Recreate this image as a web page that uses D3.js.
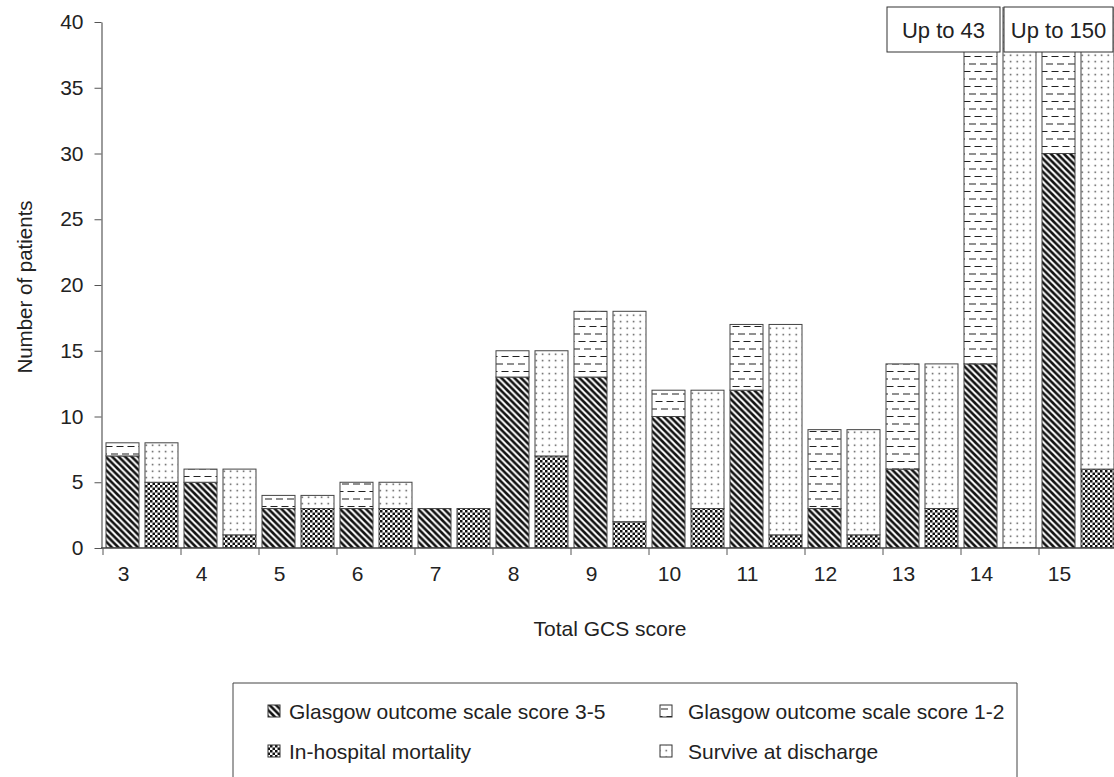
<!DOCTYPE html>
<html><head><meta charset="utf-8">
<script src="https://cdn.jsdelivr.net/npm/d3@7"></script>
<style>body{margin:0;background:#fff}svg{display:block;font-family:"Liberation Sans",Arial,sans-serif}</style>
</head><body><svg id="c" width="1114" height="777"></svg>
<script>
// ---- data ----
const categories = ['3','4','5','6','7','8','9','10','11','12','13','14','15'];
const gosGood   = [7,5,3,3,3,13,13,10,12,3,6,14,30];      // Glasgow outcome scale score 3-5
const gosPoor   = [1,1,1,2,0,2,5,2,5,6,8,29,120];         // Glasgow outcome scale score 1-2
const mortality = [5,1,3,3,3,7,2,3,1,1,3,0,6];            // In-hospital mortality
const survive   = [3,5,1,2,0,8,16,9,16,8,11,43,144];      // Survive at discharge
const yTicks = [0,5,10,15,20,25,30,35,40];
const capLabels = ['Up to 43','Up to 150'];
const capCategories = ['14','15'];
const legendLabels = ['Glasgow outcome scale score 3-5','Glasgow outcome scale score 1-2','In-hospital mortality','Survive at discharge'];

const svg = d3.select('#c');
const defs = svg.append('defs');
const FS = 21;

// patterns
const pHatch = defs.append('pattern').attr('id','hatch').attr('patternUnits','userSpaceOnUse').attr('width',6.5).attr('height',6.5);
pHatch.append('rect').attr('width',6.5).attr('height',6.5).attr('fill','#fff');
pHatch.append('path').attr('d','M-1,-1L7.5,7.5M-1,5.5L1,7.5M5.5,-1L7.5,1').attr('stroke','#111').attr('stroke-width',2.6);

const pCheck = defs.append('pattern').attr('id','check').attr('patternUnits','userSpaceOnUse').attr('width',5).attr('height',5);
pCheck.append('rect').attr('width',5).attr('height',5).attr('fill','#fff');
pCheck.append('rect').attr('width',2.5).attr('height',2.5).attr('fill','#111');
pCheck.append('rect').attr('x',2.5).attr('y',2.5).attr('width',2.5).attr('height',2.5).attr('fill','#111');

const pDash = defs.append('pattern').attr('id','dash').attr('patternUnits','userSpaceOnUse').attr('width',11).attr('height',15);
pDash.append('rect').attr('width',11).attr('height',15).attr('fill','#fff');
pDash.append('path').attr('d','M1,4H8M6.5,11.5H13.5M-4.5,11.5H2.5').attr('stroke','#222').attr('stroke-width',1.2);

const pDot = defs.append('pattern').attr('id','dot').attr('patternUnits','userSpaceOnUse').attr('width',6.5).attr('height',6.5);
pDot.append('rect').attr('width',6.5).attr('height',6.5).attr('fill','#fff');
pDot.append('rect').attr('x',2.5).attr('y',2.5).attr('width',1.4).attr('height',1.4).attr('fill','#333');

// scales
const x0 = 103, step = 78;
const x = d3.scaleBand().domain(categories).range([x0, x0 + step*categories.length]);
const sub = d3.scaleBand().domain(['a','b']).range([0, step]).paddingInner(6/39).paddingOuter(3/39);
const y = d3.scaleLinear().domain([0,40]).range([548,22]);

defs.append('clipPath').attr('id','clip').append('rect')
  .attr('x',100).attr('y',y(40)-15).attr('width',1014).attr('height',548-(y(40)-15));

// build segments
const segs = [];
categories.forEach((c,i)=>{
  [[ 'a', [[gosGood[i],'hatch'],[gosPoor[i],'dash']] ], [ 'b', [[mortality[i],'check'],[survive[i],'dot']] ]].forEach(([k,parts])=>{
    let base = 0;
    parts.forEach(([v,p])=>{
      if (v>0) segs.push({c, k, y0:base, y1:base+v, p});
      base += v;
    });
  });
});

const g = svg.append('g').attr('clip-path','url(#clip)');
g.selectAll('rect').data(segs).join('rect')
  .attr('x', d=>x(d.c)+sub(d.k))
  .attr('width', sub.bandwidth())
  .attr('y', d=>y(d.y1))
  .attr('height', d=>y(d.y0)-y(d.y1))
  .attr('fill', d=>`url(#${d.p})`)
  .attr('stroke','#444').attr('stroke-width',1);

// y axis
const yAxis = svg.append('g').attr('transform','translate(101.5,0)')
  .call(d3.axisLeft(y).tickValues(yTicks).tickSize(7).tickSizeOuter(0).tickPadding(11));
yAxis.select('.domain').attr('stroke','#666').attr('stroke-width',1.3);
yAxis.selectAll('.tick line').attr('stroke','#555');
yAxis.selectAll('text').attr('font-size',FS).attr('fill','#222').attr('font-family','"Liberation Sans",Arial,sans-serif');

// x axis line + ticks
const xg = svg.append('g');
xg.append('line').attr('x1',101).attr('x2',1114).attr('y1',548).attr('y2',548).attr('stroke','#444').attr('stroke-width',1.3);
xg.selectAll('.xt').data(categories).join('line').attr('class','xt')
  .attr('x1',d=>x(d)).attr('x2',d=>x(d)).attr('y1',548).attr('y2',555).attr('stroke','#555');
xg.selectAll('.xl').data(categories).join('text').attr('class','xl')
  .attr('x',d=>x(d)+sub('a')+sub.bandwidth()/2+1).attr('y',581)
  .attr('text-anchor','middle').attr('font-size',FS).attr('fill','#222').text(d=>d);

// axis titles
svg.append('text').attr('x',610).attr('y',636).attr('text-anchor','middle').attr('font-size',FS).attr('fill','#222').text('Total GCS score');
svg.append('text').attr('transform','translate(32,287) rotate(-90)').attr('text-anchor','middle').attr('font-size',20.5).attr('fill','#222').text('Number of patients');

// cap boxes
const capBoxes = [
  {x1: 887, x2: x(capCategories[0])+sub('a')+sub.bandwidth()+3, label: capLabels[0]},
  {x1: x(capCategories[0])+sub('b')+1, x2: 1113, label: capLabels[1]}
];
capBoxes.forEach(b=>{
  svg.append('rect').attr('x',b.x1).attr('y',7).attr('width',b.x2-b.x1).attr('height',45)
    .attr('fill','#fff').attr('stroke','#333').attr('stroke-width',1);
  svg.append('text').attr('x',(b.x1+b.x2)/2).attr('y',38).attr('text-anchor','middle')
    .attr('font-size',22).attr('fill','#222').text(b.label);
});

// legend
const lg = svg.append('g');
lg.append('path').attr('d','M233,790V683H1017V790').attr('fill','none').attr('stroke','#444').attr('stroke-width',1);
const legItems = [
  {label: legendLabels[0], p:'hatch', x:268, tx:289, y:711},
  {label: legendLabels[1], p:'dash',  x:660, tx:688, y:711},
  {label: legendLabels[2], p:'check', x:268, tx:289, y:751},
  {label: legendLabels[3], p:'dot',   x:660, tx:688, y:751}
];
legItems.forEach(d=>{
  lg.append('rect').attr('x',d.x).attr('y',d.y-6).attr('width',12).attr('height',12)
    .attr('fill',`url(#${d.p})`).attr('stroke','#333').attr('stroke-width',1);
  lg.append('text').attr('x',d.tx).attr('y',d.y+7.5)
    .attr('font-size',FS).attr('fill','#222').text(d.label);
});
</script></body></html>
